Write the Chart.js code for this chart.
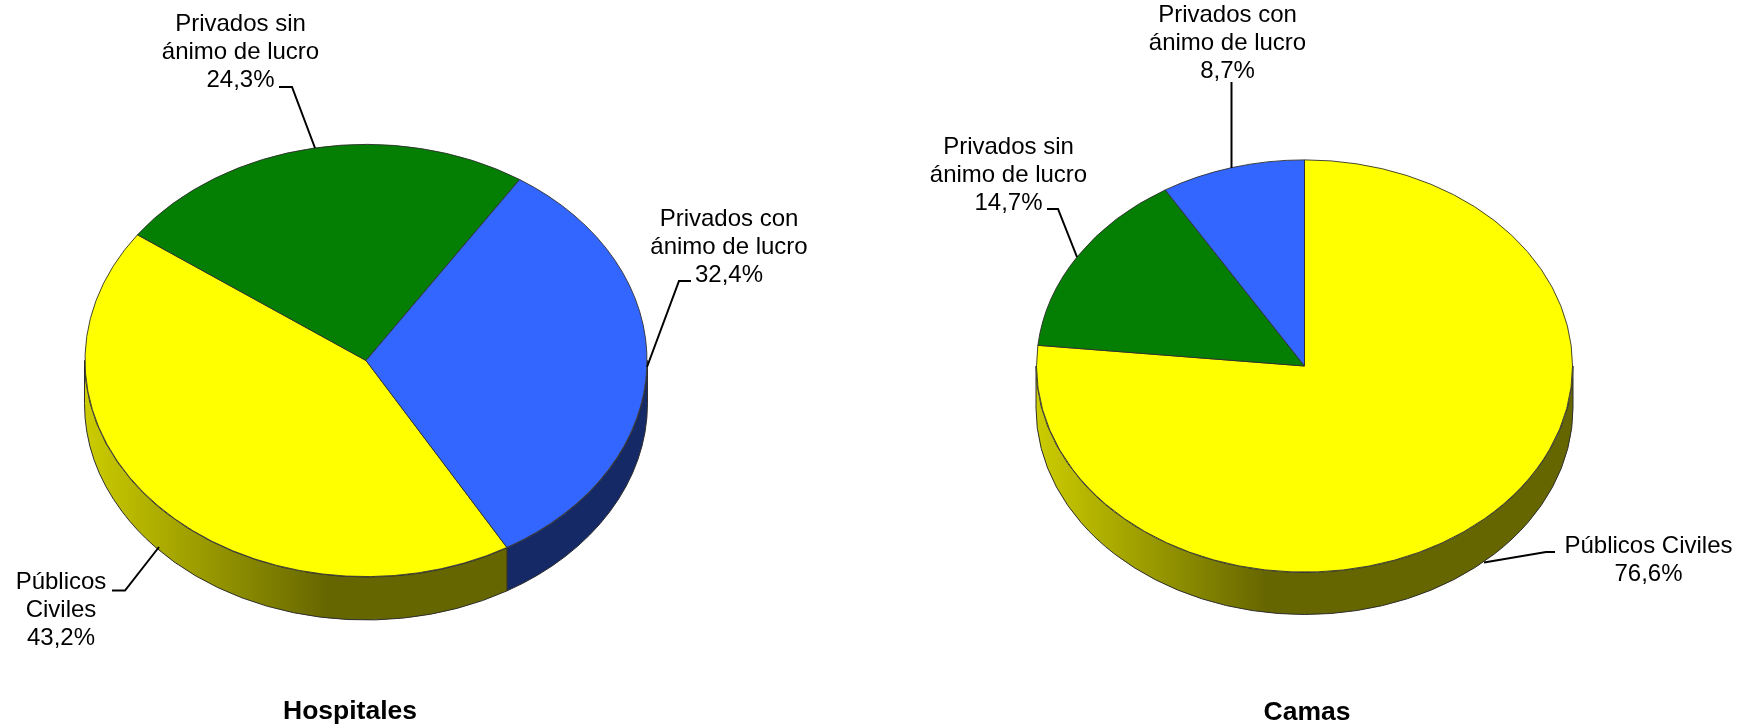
<!DOCTYPE html>
<html>
<head>
<meta charset="utf-8">
<style>
    html, body { margin: 0; padding: 0; background: #fff; overflow: hidden; }
    canvas { position: absolute; left: 0; top: 0; }
</style>
<script src="https://cdn.jsdelivr.net/npm/chart.js@4/dist/chart.umd.min.js"></script>
</head>
<body>
<canvas id="hospitales" width="1750" height="727"></canvas>
<canvas id="camas" width="1750" height="727"></canvas>
<script>
const categories = ["Públicos Civiles", "Privados sin ánimo de lucro", "Privados con ánimo de lucro"]
const hospitalesValues = [43.2, 24.3, 32.4]
const camasValues = [76.6, 14.7, 8.7]
const sliceColors = ["#ffff00", "#047f04", "#3366ff"]

const hospitalesLines = [["Públicos", "Civiles"], ["Privados sin", "ánimo de lucro"], ["Privados con", "ánimo de lucro"]]
const camasLines = [["Públicos Civiles"], ["Privados sin", "ánimo de lucro"], ["Privados con", "ánimo de lucro"]]

const hospitalesLayout = {
    title: "Hospitales", titleX: 350, titleY: 719,
    cx: 366, cy: 360.5, rx: 281.5, ry: 216.5, depth: 43, rotation: 149.9,
    labels: [
        { x: 61, y: 588.5, leader: [[112, 590.5], [125, 590.5], [159, 547]] },
        { x: 240.5, y: 31, leader: [[279, 87], [292, 87], [315, 148]] },
        { x: 729, y: 226, leader: [[691, 281], [679, 281], [647, 367]] },
    ],
}
const camasLayout = {
    title: "Camas", titleX: 1307, titleY: 720,
    cx: 1304.5, cy: 366, rx: 268.5, ry: 206.5, depth: 42, rotation: 0,
    labels: [
        { x: 1648.5, y: 553, leader: [[1555, 552], [1546, 552], [1484, 562.5]] },
        { x: 1008.5, y: 154, leader: [[1047, 209], [1058, 209], [1077, 257]] },
        { x: 1227.5, y: 21.5, leader: [[1231.5, 82], [1231.5, 168]] },
    ],
}

function shade(hex, f) {
    const n = parseInt(hex.slice(1), 16)
    const c = [n >> 16, (n >> 8) & 255, n & 255].map(v => Math.round(v * f))
    return "rgb(" + c.join(",") + ")"
}

// side wall of the disc, only the part of a slice that faces the viewer
function drawSide(ctx, arc, color, l) {
    const grad = ctx.createLinearGradient(l.cx - l.rx, 0, l.cx - l.rx + l.rx * 0.86, 0)
    grad.addColorStop(0, shade(color, 0.8))
    grad.addColorStop(1, shade(color, 0.4))
    for (let k = -1; k <= 2; k++) {
        const a0 = Math.max(arc.startAngle + k * 2 * Math.PI, 0)
        const a1 = Math.min(arc.endAngle + k * 2 * Math.PI, Math.PI)
        if (a1 <= a0) continue
        ctx.beginPath()
        ctx.ellipse(l.cx, l.cy + l.depth, l.rx, l.ry, 0, a0, a1)
        ctx.ellipse(l.cx, l.cy, l.rx, l.ry, 0, a1, a0, true)
        ctx.closePath()
        ctx.fillStyle = grad
        ctx.fill()
        ctx.strokeStyle = "#2e2e2e"
        ctx.lineWidth = 1
        ctx.stroke()
    }
}

function makePlugin(l, lines, values) {
    return {
        id: "pie3d",
        beforeDatasetsDraw(chart) {
            const ctx = chart.ctx
            chart.getDatasetMeta(0).data.forEach((arc, i) => drawSide(ctx, arc, sliceColors[i], l))
            // flatten the round pie into the tilted ellipse
            ctx.save()
            ctx.translate(0, l.cy)
            ctx.scale(1, l.ry / l.rx)
            ctx.translate(0, -l.cy)
        },
        afterDatasetsDraw(chart) {
            chart.ctx.restore()
        },
        afterDraw(chart) {
            const ctx = chart.ctx
            ctx.save()
            ctx.fillStyle = "#000"
            ctx.textAlign = "center"
            ctx.textBaseline = "alphabetic"
            l.labels.forEach((lab, i) => {
                ctx.font = "24px 'Liberation Sans'"
                const text = lines[i].concat([values[i].toFixed(1).replace(".", ",") + "%"])
                text.forEach((t, j) => ctx.fillText(t, lab.x, lab.y + j * 28))
                ctx.beginPath()
                lab.leader.forEach((p, j) => j ? ctx.lineTo(p[0], p[1]) : ctx.moveTo(p[0], p[1]))
                ctx.strokeStyle = "#000"
                ctx.lineWidth = 2
                ctx.stroke()
            })
            ctx.font = "bold 26.5px 'Liberation Sans'"
            ctx.fillText(l.title, l.titleX, l.titleY)
            ctx.restore()
        },
    }
}

function makePie(id, values, lines, l) {
    new Chart(document.getElementById(id), {
        type: "pie",
        data: {
            labels: categories,
            datasets: [{
                data: values,
                backgroundColor: sliceColors,
                borderColor: "#2e2e2e",
                borderWidth: 1,
            }],
        },
        options: {
            responsive: false,
            animation: false,
            events: [],
            rotation: l.rotation,
            layout: {
                padding: {
                    left: l.cx - l.rx,
                    right: 1750 - l.cx - l.rx,
                    top: l.cy - l.rx,
                    bottom: 727 - l.cy - l.rx,
                },
            },
            plugins: { legend: { display: false }, tooltip: { enabled: false } },
        },
        plugins: [makePlugin(l, lines, values)],
    })
}

makePie("hospitales", hospitalesValues, hospitalesLines, hospitalesLayout)
makePie("camas", camasValues, camasLines, camasLayout)
</script>
</body>
</html>
